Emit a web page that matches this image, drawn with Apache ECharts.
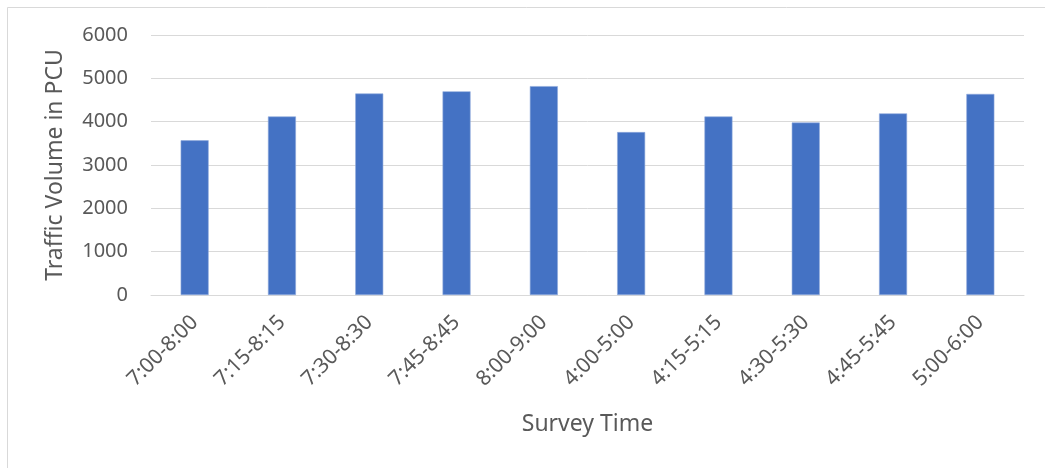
<!DOCTYPE html>
<html>
<head>
<meta charset="utf-8">
<script src="https://cdn.jsdelivr.net/npm/echarts@6/dist/echarts.min.js"></script>
<style>
  html, body { margin: 0; padding: 0; background: #fff; }
  #chart { width: 1045px; height: 468px; }
</style>
</head>
<body>
<div id="chart"></div>
<script>
// Survey intervals (morning and evening peak windows)
const categories = ['7:00-8:00', '7:15-8:15', '7:30-8:30', '7:45-8:45', '8:00-9:00',
                    '4:00-5:00', '4:15-5:15', '4:30-5:30', '4:45-5:45', '5:00-6:00'];
// Traffic volume in passenger car units for each interval
const volumes = [3570, 4120, 4650, 4700, 4820, 3760, 4120, 3980, 4190, 4640];
// Value axis range
const yMin = 0;
const yMax = 6000;
const yStep = 1000;

const FONT = 'Noto Sans';
const TEXT = '#595959';

const chart = echarts.init(document.getElementById('chart'), null, { renderer: 'canvas' });
chart.setOption({
  backgroundColor: '#ffffff',
  animation: false,
  graphic: [{
    type: 'rect',
    left: 5, top: 5,
    shape: { width: 1060, height: 480 },
    style: { fill: 'none', stroke: '#d9d9d9', lineWidth: 1 },
    silent: true
  }],
  grid: { left: 151, right: 21, top: 35, bottom: 173, containLabel: false },
  xAxis: {
    type: 'category',
    data: categories,
    name: 'Survey Time',
    nameLocation: 'middle',
    nameGap: 118,
    nameTextStyle: { fontFamily: FONT, fontSize: 23, color: TEXT },
    axisLine: { show: true, lineStyle: { color: '#d9d9d9', width: 1 } },
    axisTick: { show: false },
    axisLabel: {
      rotate: 45,
      interval: 0,
      margin: 24,
      fontFamily: FONT, fontSize: 21, color: TEXT
    }
  },
  yAxis: {
    type: 'value',
    min: yMin, max: yMax, interval: yStep,
    name: 'Traffic Volume in PCU',
    nameLocation: 'middle',
    nameGap: 84,
    nameTextStyle: { fontFamily: FONT, fontSize: 23, color: TEXT },
    axisLine: { show: false },
    axisTick: { show: false },
    axisLabel: {
      margin: 23, fontFamily: FONT, fontSize: 20, color: TEXT,
      formatter: (v) => String(v)
    },
    splitLine: { lineStyle: { color: '#d9d9d9', width: 1 } }
  },
  series: [{
    type: 'bar',
    data: volumes,
    barWidth: 28,
    itemStyle: { color: '#4472c4', borderColor: '#8faadc', borderWidth: 0.6 }
  }]
});
</script>
</body>
</html>
